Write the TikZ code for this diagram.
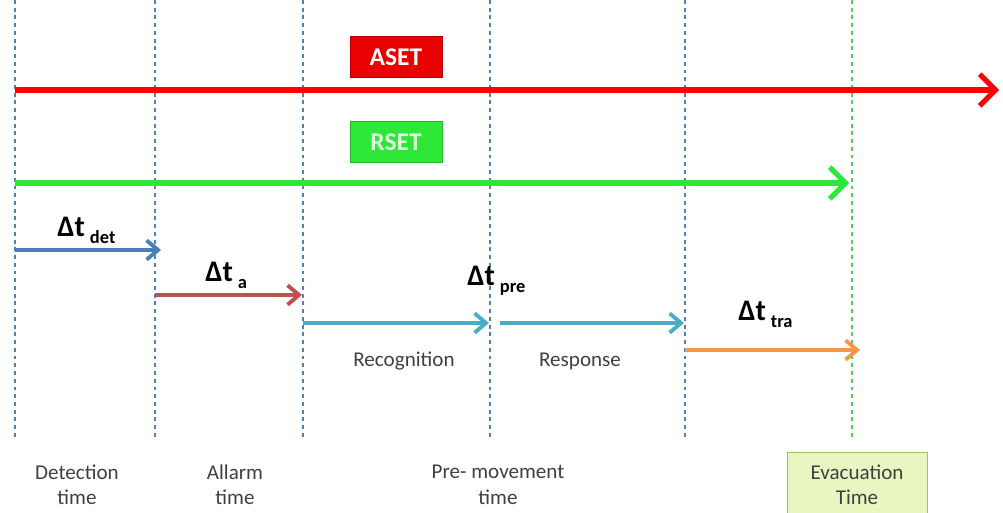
\documentclass[tikz,border=0pt]{standalone}
\usepackage{fontspec}
\setmainfont{Carlito}
\usetikzlibrary{arrows.meta}
\definecolor{vblue}{RGB}{79,129,189}
\definecolor{vgreen}{RGB}{90,205,90}
\definecolor{asetred}{RGB}{255,0,0}
\definecolor{rsetgreen}{RGB}{45,232,55}
\definecolor{detblue}{RGB}{74,126,187}
\definecolor{ared}{RGB}{192,80,77}
\definecolor{precyan}{RGB}{75,172,198}
\definecolor{traorange}{RGB}{247,150,70}
\definecolor{evacfill}{RGB}{232,246,194}
\definecolor{evacline}{RGB}{165,190,100}
\definecolor{txtgray}{RGB}{64,64,64}
\tikzset{
    VL/.style ={draw=vblue, line width=0.6pt, dash pattern=on 2.2pt off 2.2pt},
    VG/.style ={draw=vgreen, line width=0.6pt, dash pattern=on 2.2pt off 2.2pt},
    AR/.style ={line width=2.2pt, -{Straight Barb[length=6.5pt,width=11pt,line width=2.2pt]}},
    AB/.style ={line width=2.9pt, -{Straight Barb[length=9pt,width=18pt,line width=2.9pt]}},
    BX/.style ={rectangle, minimum width=1.84cm, minimum height=0.82cm, text=white,
                font=\fontsize{14.5}{16}\selectfont\bfseries},
    DT/.style ={anchor=base west, inner sep=0pt, font=\fontsize{17}{20}\selectfont\bfseries},
    PH/.style ={text=txtgray, font=\fontsize{12}{14}\selectfont},
    BL/.style ={align=center, text=txtgray, font=\fontsize{12}{14.5}\selectfont}}
\newcommand{\dsub}[1]{\,\raisebox{-4pt}{\fontsize{10.5}{12}\selectfont #1}}

\begin{document}
\begin{tikzpicture}[x=0.02cm, y=-0.02cm]
        \useasboundingbox (0,0) rectangle (1003,513);
        \foreach \n/\x in {1/15,2/155,3/303,4/490,5/685,6/852}{
            \coordinate (t\n) at (\x,0);
            \coordinate (b\n) at (\x,440);}
        \draw[VL] (t1) -- (b1);
        \draw[VL] (t2) -- (b2);
        \draw[VL] (t3) -- (b3);
        \draw[VL] (t4) -- (b4);
        \draw[VL] (t5) -- (b5);
        \draw[VG] (t6) -- (b6);
        \node[BX, fill=asetred!92!black, draw=asetred!70!black] (aset) at (396,57){ASET};
        \node[BX, fill=rsetgreen, draw=rsetgreen!80!black, text=white!88!green] (rset) at (396,142){RSET};
        \coordinate (as0) at (15,90);
        \coordinate (as1) at (999,90);
        \coordinate (rs0) at (15,183);
        \coordinate (rs1) at (849,183);
        \coordinate (de0) at (15,250);
        \coordinate (de1) at (161,250);
        \coordinate (al0) at (155,295);
        \coordinate (al1) at (302,295);
        \coordinate (rc0) at (303,323);
        \coordinate (rc1) at (489,323);
        \coordinate (rp0) at (500,323);
        \coordinate (rp1) at (684,323);
        \coordinate (tr0) at (685,350);
        \coordinate (tr1) at (860,350);
        \draw[AB, asetred] (as0) -- (as1);
        \draw[AB, rsetgreen] (rs0) -- (rs1);
        \draw[AR, detblue] (de0) -- (de1);
        \draw[AR, ared] (al0) -- (al1);
        \draw[AR, precyan] (rc0) -- (rc1);
        \draw[AR, precyan] (rp0) -- (rp1);
        \draw[AR, traorange] (tr0) -- (tr1);
        \node[DT] (ldet) at (57,236){Δt\dsub{det}};
        \node[DT] (la) at (205,281){Δt\dsub{a}};
        \node[DT] (lpre) at (467,285){Δt\dsub{pre}};
        \node[DT] (ltra) at (738,320){Δt\dsub{tra}};
        \node[PH] (recog) at (404,361){Recognition};
        \node[PH] (resp) at (580,361){Response};
        \node[BL] (detect) at (77,485){Detection\\time};
        \node[BL] (allarm) at (235,485){Allarm\\time};
        \node[BL] (premov) at (498,485){Pre- movement\\time};
        \node[BL, fill=evacfill, draw=evacline, minimum width=2.8cm, minimum height=1.3cm] (evac) at (857,485){Evacuation\\Time};
    \end{tikzpicture}
\end{document}
